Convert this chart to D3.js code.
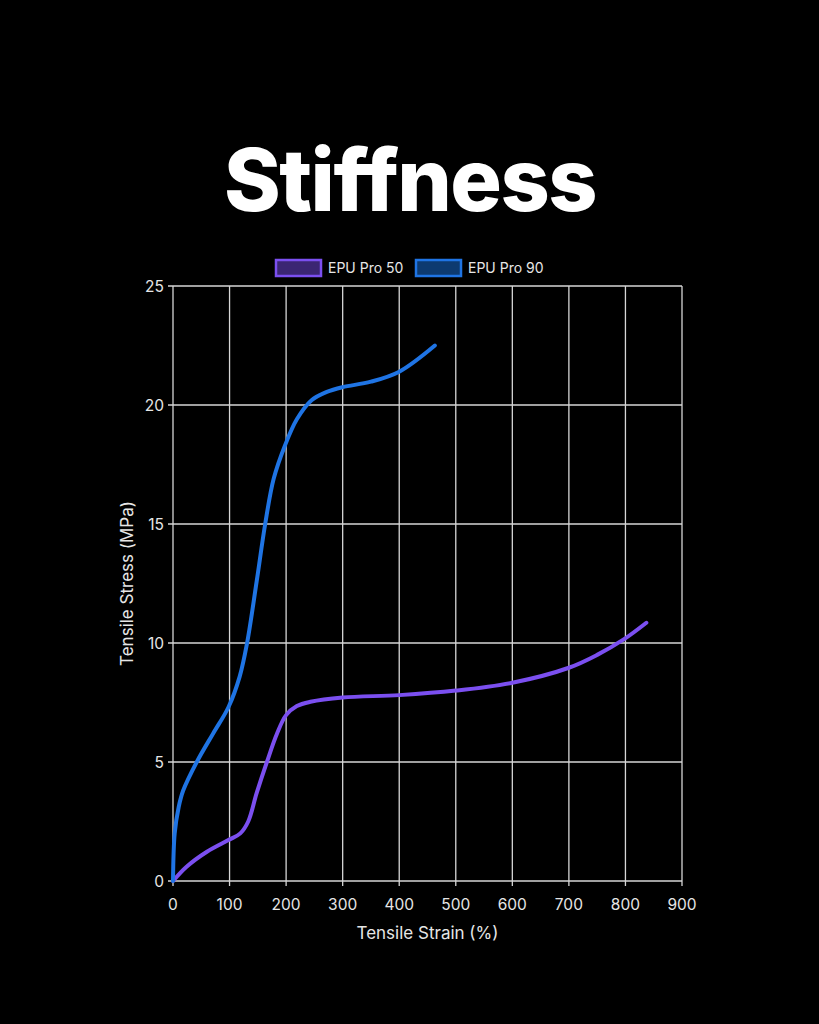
<!DOCTYPE html>
<html>
<head>
<meta charset="utf-8">
<script src="https://cdn.jsdelivr.net/npm/d3@7"></script>
<style>
    html, body { margin: 0; padding: 0; background: #000; }
    svg { display: block; }
</style>
</head>
<body>
<div id="chart"></div>
<script>
// values
const seriesNames = ["EPU Pro 50", "EPU Pro 90"];
const strain50 = [0, 24, 60, 98, 119, 133, 148, 166, 184, 200, 219, 243, 300, 400, 500, 600, 700, 750, 797, 837];
const stress50 = [0, 0.6, 1.23, 1.72, 2.0, 2.5, 3.7, 5.0, 6.2, 6.97, 7.35, 7.53, 7.71, 7.81, 8.0, 8.33, 8.96, 9.5, 10.15, 10.85];
const strain90 = [0, 3, 10, 18, 42, 71, 98, 118, 131, 148, 163, 178, 198, 219, 245, 272, 300, 350, 400, 463];
const stress90 = [0, 2.0, 3.1, 3.8, 5.0, 6.2, 7.3, 8.6, 10.0, 12.6, 15.0, 16.9, 18.3, 19.4, 20.2, 20.55, 20.75, 20.98, 21.4, 22.5];
const xTicks = [0, 100, 200, 300, 400, 500, 600, 700, 800, 900];
const yTicks = [0, 5, 10, 15, 20, 25];

const W = 819, H = 1024;
const margin = { left: 173, right: W - 682, top: 286, bottom: H - 881 };

const colors = ["#7b4ff0", "#1f74e4"];
const swatchFill = ["#3b2673", "#0d3a70"];

const svg = d3.select("#chart").append("svg")
    .attr("width", W)
    .attr("height", H)
    .style("background", "#000");

const x = d3.scaleLinear().domain([0, 900]).range([margin.left, W - margin.right]);
const y = d3.scaleLinear().domain([0, 25]).range([H - margin.bottom, margin.top]);

// title
svg.append("text")
    .attr("x", 410)
    .attr("y", 211)
    .attr("text-anchor", "middle")
    .attr("fill", "#fff")
    .attr("font-family", "Inter, sans-serif")
    .attr("font-weight", 800)
    .attr("font-size", 86)
    .attr("letter-spacing", -1.5)
    .text("Stiffness");

// grid
const grid = svg.append("g").attr("stroke", "#d6d6d6").attr("stroke-width", 1.3);
grid.selectAll("line.v").data(xTicks).join("line")
    .attr("class", "v")
    .attr("x1", d => x(d)).attr("x2", d => x(d))
    .attr("y1", y(0) + 5).attr("y2", y(25));
grid.selectAll("line.h").data(yTicks).join("line")
    .attr("class", "h")
    .attr("x1", x(0) - 5).attr("x2", x(900))
    .attr("y1", d => y(d)).attr("y2", d => y(d));

// tick labels
const tickFont = "Inter, sans-serif";
svg.append("g").selectAll("text").data(xTicks).join("text")
    .attr("x", d => x(d))
    .attr("y", y(0) + 29)
    .attr("text-anchor", "middle")
    .attr("fill", "#e6e6e6")
    .attr("font-family", tickFont)
    .attr("font-size", 15.5)
    .text(d => d);
svg.append("g").selectAll("text").data(yTicks).join("text")
    .attr("x", x(0) - 9)
    .attr("y", d => y(d) + 6)
    .attr("text-anchor", "end")
    .attr("fill", "#e6e6e6")
    .attr("font-family", tickFont)
    .attr("font-size", 15.5)
    .text(d => d);

// axis titles
svg.append("text")
    .attr("x", (x(0) + x(900)) / 2)
    .attr("y", 939)
    .attr("text-anchor", "middle")
    .attr("fill", "#e6e6e6")
    .attr("font-family", tickFont)
    .attr("font-size", 17)
    .text("Tensile Strain (%)");
svg.append("text")
    .attr("transform", `translate(133, ${(y(0) + y(25)) / 2}) rotate(-90)`)
    .attr("text-anchor", "middle")
    .attr("fill", "#e6e6e6")
    .attr("font-family", tickFont)
    .attr("font-size", 17)
    .text("Tensile Stress (MPa)");

// lines
const line = d3.line()
    .x(d => x(d[0]))
    .y(d => y(d[1]))
    .curve(d3.curveCatmullRom.alpha(0.5));

const series = [
    d3.zip(strain50, stress50),
    d3.zip(strain90, stress90)
];

svg.append("g").selectAll("path").data(series).join("path")
    .attr("fill", "none")
    .attr("stroke", (d, i) => colors[i])
    .attr("stroke-width", 4)
    .attr("stroke-linecap", "round")
    .attr("stroke-linejoin", "round")
    .attr("d", line);

// legend
const legendX = [276, 416];
const legend = svg.append("g").selectAll("g").data(seriesNames).join("g")
    .attr("transform", (d, i) => `translate(${legendX[i]}, 260)`);
legend.append("rect")
    .attr("width", 45)
    .attr("height", 16)
    .attr("fill", (d, i) => swatchFill[i])
    .attr("stroke", (d, i) => colors[i])
    .attr("stroke-width", 2.5);
legend.append("text")
    .attr("x", 52)
    .attr("y", 13)
    .attr("fill", "#e6e6e6")
    .attr("font-family", tickFont)
    .attr("font-size", 14)
    .text(d => d);
</script>
</body>
</html>
